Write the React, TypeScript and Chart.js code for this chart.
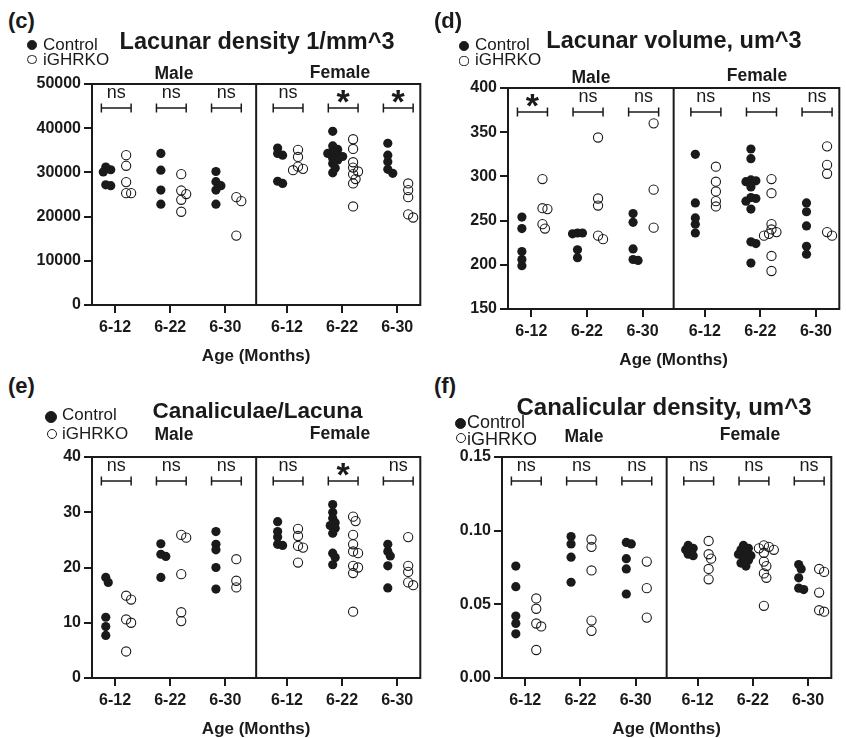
import React, { useEffect, useRef } from 'react';
import { Chart, registerables } from 'chart.js';

Chart.register(...registerables);

const FONT = '"Liberation Sans", Arial, Helvetica, sans-serif';
Chart.defaults.font.family = FONT;

// ---------- shared categories ----------
const ageLabels = ['6-12', '6-22', '6-30', '6-12', '6-22', '6-30'];
const groupPositions = [1, 2, 3, 4.12, 5.12, 6.12];
const sexLabels = ['Male', 'Female'];
const seriesNames = ['Control', 'iGHRKO'];
const xAxisTitle = 'Age (Months)';

// ---------- (c) Lacunar density ----------
const densityControl = [
  [31200, 30600, 30100, 27200, 27000],
  [34300, 30500, 26000, 22800],
  [30200, 27900, 27000, 26000, 22800],
  [35500, 34300, 33900, 28000, 27500],
  [39300, 36000, 35200, 34700, 34300, 34000, 33600, 33200, 32800, 32000, 31000, 29900],
  [36600, 33900, 32400, 30700, 29800],
];
const densityKO = [
  [33900, 31500, 27800, 25300, 25300],
  [29600, 25900, 25100, 23800, 21100],
  [24400, 23500, 15700],
  [35100, 33500, 31300, 30800, 30500],
  [37500, 35300, 32300, 31100, 30200, 29600, 28500, 27500, 22300],
  [27500, 26000, 24400, 20500, 19800],
];
const densitySig = ['ns', 'ns', 'ns', 'ns', '*', '*'];
const densityTicks = [0, 10000, 20000, 30000, 40000, 50000];
const densityTickLabels = ['0', '10000', '20000', '30000', '40000', '50000'];

// ---------- (d) Lacunar volume ----------
const volumeControl = [
  [254, 241, 215, 206, 199],
  [236, 236, 235, 217, 208],
  [258, 248, 218, 206, 205],
  [325, 270, 253, 246, 236],
  [331, 320, 296, 295, 294, 288, 276, 275, 272, 263, 226, 224, 202],
  [270, 260, 244, 221, 212],
];
const volumeKO = [
  [297, 264, 263, 246, 241],
  [344, 275, 267, 233, 229],
  [360, 285, 242],
  [311, 294, 283, 272, 266],
  [297, 281, 246, 240, 237, 235, 233, 210, 193],
  [334, 313, 303, 237, 233],
];
const volumeSig = ['*', 'ns', 'ns', 'ns', 'ns', 'ns'];
const volumeTicks = [150, 200, 250, 300, 350, 400];
const volumeTickLabels = ['150', '200', '250', '300', '350', '400'];

// ---------- (e) Canaliculae/Lacuna ----------
const canaliculaeControl = [
  [18.2, 17.3, 11.0, 9.3, 7.7],
  [24.3, 22.4, 22.0, 18.2],
  [26.5, 24.2, 23.2, 20.0, 16.1],
  [28.3, 26.5, 25.5, 24.2, 24.0],
  [31.4, 30.0, 28.9, 28.1, 27.6, 27.1, 26.2, 22.6, 21.8, 20.5],
  [24.2, 22.9, 22.1, 20.3, 16.3],
];
const canaliculaeKO = [
  [14.9, 14.2, 10.6, 10.0, 4.8],
  [25.9, 25.4, 18.8, 11.9, 10.3],
  [21.5, 17.6, 16.4],
  [27.0, 25.7, 23.9, 23.6, 20.9],
  [29.2, 28.4, 25.9, 24.2, 22.9, 22.6, 20.3, 20.0, 19.0, 12.0],
  [25.5, 20.3, 19.2, 17.3, 16.8],
];
const canaliculaeSig = ['ns', 'ns', 'ns', 'ns', '*', 'ns'];
const canaliculaeTicks = [0, 10, 20, 30, 40];
const canaliculaeTickLabels = ['0', '10', '20', '30', '40'];

// ---------- (f) Canalicular density ----------
const canDensityControl = [
  [0.076, 0.062, 0.042, 0.037, 0.030],
  [0.096, 0.091, 0.082, 0.065],
  [0.092, 0.091, 0.081, 0.074, 0.057],
  [0.090, 0.088, 0.087, 0.084, 0.083],
  [0.090, 0.088, 0.087, 0.085, 0.084, 0.083, 0.081, 0.080, 0.078, 0.076],
  [0.077, 0.074, 0.068, 0.061, 0.060],
];
const canDensityKO = [
  [0.054, 0.047, 0.037, 0.035, 0.019],
  [0.094, 0.089, 0.073, 0.039, 0.032],
  [0.079, 0.061, 0.041],
  [0.093, 0.084, 0.081, 0.074, 0.067],
  [0.090, 0.089, 0.088, 0.087, 0.085, 0.079, 0.076, 0.071, 0.068, 0.049],
  [0.074, 0.072, 0.058, 0.046, 0.045],
];
const canDensitySig = ['ns', 'ns', 'ns', 'ns', 'ns', 'ns'];
const canDensityTicks = [0, 0.05, 0.1, 0.15];
const canDensityTickLabels = ['0.00', '0.05', '0.10', '0.15'];

// ---------- layout (not data) ----------
const X_MIN = 0.58;
const X_MAX = 6.54;
const DIVIDER = 3.56;
const CTRL_OFF = -0.17;
const KO_OFF = 0.2;
const Y_AXIS_W = 62;
const PAD_TOP = 16;
const PAD_RIGHT = 4;
const X_AXIS_H = 63;
const INK = '#1a1a1a';

type Panel = {
  key: string;
  letter: string;
  title: string;
  control: number[][];
  ko: number[][];
  sig: string[];
  ticks: number[];
  tickLabels: string[];
  L: number; R: number; T: number; B: number;
  letterPos: [number, number];
  legend: { fx: number; fy: number; fr: number; ox: number; oy: number; orad: number; tx: number; cy1: number; cy2: number; size: number };
  titlePos: { cx: number; cap: number; size: number };
  sexPos: { m: [number, number]; f: [number, number] };
};

const panels: Panel[] = [
  {
    key: 'c', letter: '(c)', title: 'Lacunar density 1/mm^3',
    control: densityControl, ko: densityKO, sig: densitySig,
    ticks: densityTicks, tickLabels: densityTickLabels,
    L: 92, R: 422, T: 84, B: 305,
    letterPos: [8, 10.4],
    legend: { fx: 32, fy: 45, fr: 4.8, ox: 32, oy: 59.5, orad: 4.6, tx: 43, cy1: 38, cy2: 53, size: 17 },
    titlePos: { cx: 257, cap: 33, size: 23.5 },
    sexPos: { m: [174, 67], f: [340, 66] },
  },
  {
    key: 'd', letter: '(d)', title: 'Lacunar volume, um^3',
    control: volumeControl, ko: volumeKO, sig: volumeSig,
    ticks: volumeTicks, tickLabels: volumeTickLabels,
    L: 508, R: 841, T: 88, B: 309,
    letterPos: [434, 10.4],
    legend: { fx: 464, fy: 46, fr: 4.8, ox: 464, oy: 61, orad: 4.6, tx: 475, cy1: 38, cy2: 53, size: 17 },
    titlePos: { cx: 674, cap: 32, size: 23.5 },
    sexPos: { m: [591, 71], f: [757, 69] },
  },
  {
    key: 'e', letter: '(e)', title: 'Canaliculae/Lacuna',
    control: canaliculaeControl, ko: canaliculaeKO, sig: canaliculaeSig,
    ticks: canaliculaeTicks, tickLabels: canaliculaeTickLabels,
    L: 92, R: 422, T: 457, B: 678,
    letterPos: [8, 375],
    legend: { fx: 51, fy: 417, fr: 6, ox: 52, oy: 434, orad: 5, tx: 62, cy1: 408, cy2: 427, size: 17 },
    titlePos: { cx: 257.5, cap: 403, size: 22.5 },
    sexPos: { m: [174, 428], f: [340, 427] },
  },
  {
    key: 'f', letter: '(f)', title: 'Canalicular density, um^3',
    control: canDensityControl, ko: canDensityKO, sig: canDensitySig,
    ticks: canDensityTicks, tickLabels: canDensityTickLabels,
    L: 502, R: 833, T: 457, B: 678,
    letterPos: [434, 375],
    legend: { fx: 460, fy: 423, fr: 5.5, ox: 461, oy: 438, orad: 5, tx: 467, cy1: 415, cy2: 432, size: 18 },
    titlePos: { cx: 664, cap: 398, size: 24 },
    sexPos: { m: [584, 430], f: [750, 428] },
  },
];

// Beeswarm-like spread of points around a column centre (layout only)
function swarm(values: number[], center: number, pxPerX: number, pxPerY: number) {
  const order = values.map((_, i) => i).sort((a, b) => values[b] - values[a]);
  const placed: { x: number; y: number }[] = [];
  const out: { x: number; y: number }[] = new Array(values.length);
  const minD = 5;
  const step = 2.5;
  for (const i of order) {
    const py = values[i] * pxPerY;
    let off = 0;
    for (let t = 0; t < 40; t++) {
      const cand = t === 0 ? 0 : (t % 2 === 1 ? 1 : -1) * Math.ceil(t / 2) * step;
      if (placed.every((p) => Math.hypot(p.x - cand, p.y - py) >= minD)) {
        off = cand;
        break;
      }
    }
    placed.push({ x: off, y: py });
    out[i] = { x: center + off / pxPerX, y: values[i] };
  }
  return out;
}

function PanelChart({ p }: { p: Panel }) {
  const ref = useRef<HTMLCanvasElement | null>(null);
  const left = p.L - Y_AXIS_W;
  const top = p.T - PAD_TOP;
  const width = p.R + PAD_RIGHT - left;
  const height = p.B + X_AXIS_H - top;

  useEffect(() => {
    if (!ref.current) return;
    const yMin = p.ticks[0];
    const yMax = p.ticks[p.ticks.length - 1];
    const pxPerX = (p.R - p.L) / (X_MAX - X_MIN);
    const pxPerY = (p.B - p.T) / (yMax - yMin);
    const ctrlPts = p.control.flatMap((vals, g) => swarm(vals, groupPositions[g] + CTRL_OFF, pxPerX, pxPerY));
    const koPts = p.ko.flatMap((vals, g) => swarm(vals, groupPositions[g] + KO_OFF, pxPerX, pxPerY));

    const framePlugin = {
      id: 'frame' + p.key,
      afterDraw(chart: any) {
        const { ctx, chartArea: a, scales } = chart;
        const xs = scales.x;
        ctx.save();
        ctx.strokeStyle = INK;
        ctx.lineWidth = 2;
        ctx.strokeRect(a.left, a.top, a.right - a.left, a.bottom - a.top);
        const dx = xs.getPixelForValue(DIVIDER);
        ctx.beginPath();
        ctx.moveTo(dx, a.top);
        ctx.lineTo(dx, a.bottom);
        ctx.stroke();
        p.sig.forEach((s, i) => {
          const g = groupPositions[i];
          const x0 = xs.getPixelForValue(g - 0.25);
          const x1 = xs.getPixelForValue(g + 0.29);
          const xc = xs.getPixelForValue(g) + 1;
          const y = a.top + 24;
          ctx.lineWidth = 1.5;
          ctx.beginPath();
          ctx.moveTo(x0, y); ctx.lineTo(x1, y);
          ctx.moveTo(x0, y - 4.5); ctx.lineTo(x0, y + 4.5);
          ctx.moveTo(x1, y - 4.5); ctx.lineTo(x1, y + 4.5);
          ctx.stroke();
          ctx.fillStyle = INK;
          ctx.textAlign = 'center';
          ctx.textBaseline = 'alphabetic';
          if (s === '*') {
            ctx.font = `bold 34px ${FONT}`;
            ctx.fillText(s, xc, a.top + 29);
          } else {
            ctx.font = `18px ${FONT}`;
            ctx.fillText(s, xc, a.top + 14);
          }
        });
        ctx.restore();
      },
    };

    const axisCommon = {
      grid: { drawOnChartArea: false, drawTicks: true, tickLength: 8, color: INK, lineWidth: 2 },
      border: { display: true, color: INK, width: 2 },
    };

    const chart = new Chart(ref.current, {
      type: 'scatter',
      data: {
        datasets: [
          {
            label: seriesNames[0], data: ctrlPts, pointStyle: 'circle', pointRadius: 4.6,
            pointBackgroundColor: INK, pointBorderColor: INK, pointBorderWidth: 0,
          },
          {
            label: seriesNames[1], data: koPts, pointStyle: 'circle', pointRadius: 4.6,
            pointBackgroundColor: 'rgba(0,0,0,0)', pointBorderColor: INK, pointBorderWidth: 1.1,
          },
        ],
      },
      options: {
        responsive: false,
        animation: false,
        layout: { padding: { top: PAD_TOP, right: PAD_RIGHT, left: 0, bottom: 0 } },
        plugins: { legend: { display: false }, tooltip: { enabled: false } },
        scales: {
          x: {
            type: 'linear', min: X_MIN, max: X_MAX,
            afterBuildTicks: (s: any) => { s.ticks = groupPositions.map((v) => ({ value: v })); },
            afterFit: (s: any) => { s.height = X_AXIS_H; },
            ticks: {
              callback: (_v: any, i: number) => ageLabels[i], autoSkip: false, maxRotation: 0,
              font: { size: 16, weight: 'bold' }, color: INK, padding: 5,
            },
            title: {
              display: true, text: xAxisTitle, color: INK,
              font: { size: 17, weight: 'bold' }, padding: { top: 0, bottom: 1 },
            },
            ...axisCommon,
          },
          y: {
            type: 'linear', min: p.ticks[0], max: p.ticks[p.ticks.length - 1],
            afterBuildTicks: (s: any) => { s.ticks = p.ticks.map((v) => ({ value: v })); },
            afterFit: (s: any) => { s.width = Y_AXIS_W; },
            ticks: {
              callback: (_v: any, i: number) => p.tickLabels[i],
              font: { size: 16, weight: 'bold' }, color: INK, padding: 3,
            },
            ...axisCommon,
          },
        },
      } as any,
      plugins: [framePlugin],
    });
    return () => chart.destroy();
  }, [p]);

  return (
    <canvas
      ref={ref}
      width={width}
      height={height}
      style={{ position: 'absolute', left, top, width, height }}
    />
  );
}

function Text({ x, cap, size, bold, center, children }: any) {
  const topPx = cap - 0.13 * size;
  const style: React.CSSProperties = {
    position: 'absolute', top: topPx, fontSize: size, lineHeight: 1,
    fontFamily: FONT, fontWeight: bold ? 'bold' : 'normal', color: INK, whiteSpace: 'nowrap',
  };
  if (center) {
    style.left = x - 250;
    style.width = 500;
    style.textAlign = 'center';
  } else {
    style.left = x;
  }
  return <div style={style}>{children}</div>;
}

function Dot({ x, y, r, filled }: any) {
  return (
    <div
      style={{
        position: 'absolute', left: x - r, top: y - r, width: 2 * r, height: 2 * r,
        borderRadius: '50%', boxSizing: 'border-box',
        background: filled ? INK : 'transparent', border: `1px solid ${INK}`,
      }}
    />
  );
}

function Overlay({ p }: { p: Panel }) {
  const lg = p.legend;
  return (
    <>
      <div
        style={{
          position: 'absolute', left: p.letterPos[0], top: p.letterPos[1], fontSize: 22, lineHeight: 1,
          fontFamily: FONT, fontWeight: 'bold', color: INK,
        }}
      >
        {p.letter}
      </div>
      <Dot x={lg.fx} y={lg.fy} r={lg.fr} filled />
      <Text x={lg.tx} cap={lg.cy1} size={lg.size}>{seriesNames[0]}</Text>
      <Dot x={lg.ox} y={lg.oy} r={lg.orad} />
      <Text x={lg.tx} cap={lg.cy2} size={lg.size}>{seriesNames[1]}</Text>
      <Text x={p.titlePos.cx} cap={p.titlePos.cap} size={p.titlePos.size} bold center>{p.title}</Text>
      <Text x={p.sexPos.m[0]} cap={p.sexPos.m[1]} size={17.5} bold center>{sexLabels[0]}</Text>
      <Text x={p.sexPos.f[0]} cap={p.sexPos.f[1]} size={17.5} bold center>{sexLabels[1]}</Text>
    </>
  );
}

export default function App() {
  return (
    <div
      style={{
        position: 'absolute', left: 0, top: 0, width: 846, height: 738, overflow: 'hidden',
        background: '#fff',
      }}
    >
      {panels.map((p) => (
        <PanelChart key={p.key} p={p} />
      ))}
      {panels.map((p) => (
        <Overlay key={'o' + p.key} p={p} />
      ))}
    </div>
  );
}
